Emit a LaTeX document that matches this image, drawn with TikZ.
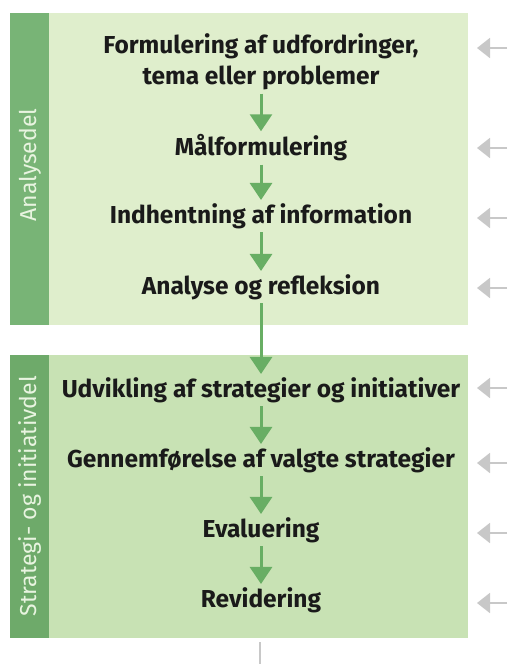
\documentclass[tikz,border=0pt]{standalone}
\usepackage{fontspec}
\setmainfont{Fira Sans}
\usetikzlibrary{arrows.meta}

\definecolor{panelA}{RGB}{223,238,204}
\definecolor{stripA}{RGB}{120,180,118}
\definecolor{panelB}{RGB}{200,226,180}
\definecolor{stripB}{RGB}{110,170,106}
\definecolor{flowgreen}{RGB}{104,174,100}
\definecolor{striptext}{RGB}{232,244,224}
\definecolor{sidegray}{RGB}{200,200,200}
\definecolor{textdark}{RGB}{26,26,26}

\begin{document}
\begin{tikzpicture}[x=1pt, y=-1pt, thick,
    stepbox/.style={font=\fontsize{24.5}{31}\selectfont\bfseries, text=textdark, align=center, inner sep=3pt},
    flow/.style={draw=flowgreen, line width=3pt, -{Triangle[width=22pt, length=17pt]}},
    side/.style={draw=sidegray, line width=2pt, -{Triangle[width=20pt, length=13pt]}},
    partlabel/.style={rotate=90, font=\fontsize{23}{23}\selectfont, text=striptext}]

    \useasboundingbox (0,0) rectangle (507,664);

    % panels and side strips
    \node[fill=panelA, minimum width=458pt, minimum height=312pt, inner sep=0pt] at (239,169) (P1) {};
    \node[fill=stripA, minimum width=39pt, minimum height=312pt, inner sep=0pt] at (29.5,169) (S1) {};
    \node[fill=panelB, minimum width=458pt, minimum height=283pt, inner sep=0pt] at (239,496.5) (P2) {};
    \node[fill=stripB, minimum width=39pt, minimum height=283pt, inner sep=0pt] at (29.5,496.5) (S2) {};

    \node[partlabel] at (30,165) (L1) {Analysedel};
    \node[partlabel] at (30,496) (L2) {Strategi- og initiativdel};

    % steps
    \node[stepbox] at (261,62)  (F) {Formulering af udfordringer,\\tema eller problemer};
    \node[stepbox] at (261,148) (M) {Målformulering};
    \node[stepbox] at (261,216) (I) {Indhentning af information};
    \node[stepbox] at (261,287) (A) {Analyse og refleksion};
    \node[stepbox] at (261,390) (U) {Udvikling af strategier og initiativer};
    \node[stepbox] at (261,460) (G) {Gennemførelse af valgte strategier};
    \node[stepbox] at (261,530) (E) {Evaluering};
    \node[stepbox] at (261,600) (R) {Revidering};

    \draw[flow] (F) -- (M);
    \draw[flow] (M) -- (I);
    \draw[flow] (I) -- (A);
    \draw[flow] (A) -- (U);
    \draw[flow] (U) -- (G);
    \draw[flow] (G) -- (E);
    \draw[flow] (E) -- (R);

    % arrows coming in from the right
    \foreach \y [count=\i] in {48,148,218,288,388,463,533,603} {
        \coordinate (in\i) at (507,\y);
        \coordinate (tip\i) at (477,\y);
        \draw[side] (in\i) -- (tip\i);
    }

    \coordinate (tail) at (260,642);
    \coordinate (out) at (260,664);
    \draw[draw=sidegray, line width=2pt] (tail) -- (out);

\end{tikzpicture}
\end{document}
